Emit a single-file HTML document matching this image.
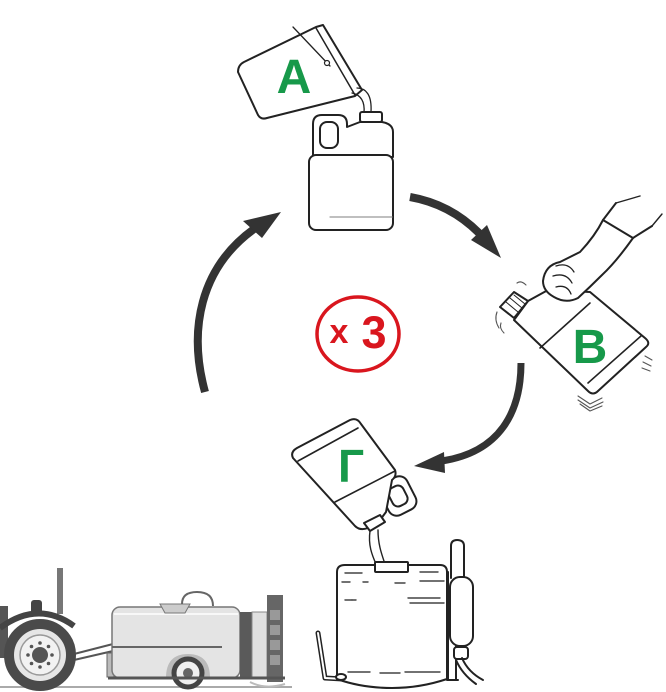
<!DOCTYPE html>
<html><head><meta charset="utf-8"><style>
html,body{margin:0;padding:0;background:#fff;}
svg{display:block;}
text{font-family:"Liberation Sans",sans-serif;font-weight:bold;}
</style></head><body>
<svg width="666" height="692" viewBox="0 0 666 692" xmlns="http://www.w3.org/2000/svg">
<rect width="666" height="692" fill="#fff"/>

<!-- ARROWS -->
<g fill="#333" stroke="none">
  <path d="M205,392 C188,330 200,268 254,229" fill="none" stroke="#333" stroke-width="8" stroke-linecap="butt"/>
  <polygon points="281,212 243,221 262,238"/>
  <path d="M410,197 Q450,204 479,233" fill="none" stroke="#333" stroke-width="8"/>
  <polygon points="501,258 471,240 487,225"/>
  <path d="M521,363 C521,412 500,452 442,461" fill="none" stroke="#333" stroke-width="7"/>
  <polygon points="414,466 444,452 445,473"/>
</g>

<!-- x3 -->
<ellipse cx="358" cy="334" rx="41" ry="37" fill="none" stroke="#d9161e" stroke-width="3.5"/>
<text x="339" y="343" font-size="34" fill="#d9161e" text-anchor="middle">x</text>
<text x="374" y="348" font-size="45" fill="#d9161e" text-anchor="middle">3</text>

<!-- JUG A -->
<g fill="#fff" stroke="#222" stroke-width="2" stroke-linejoin="round" stroke-linecap="round">
  <path d="M238,72 L258,115 Q261,120 267,118 L355,96 L362,90 L323,25 L316,27 L244,62 Q238,65 238,72 Z"/>
  <line x1="316" y1="28" x2="355" y2="95" stroke-width="1.5"/>
  <line x1="293" y1="27" x2="330" y2="66" stroke-width="1.3"/>
  <circle cx="327" cy="63" r="2.5" stroke-width="1.2"/>
  <path d="M357,88 C366,88 372,95 371,112" fill="none" stroke-width="1.3"/>
  <path d="M352,93 C361,95 365,102 364,113" fill="none" stroke-width="1.3"/>
  <path d="M313,157 L313,124 Q313,115 322,115 L338,115 Q347,115 347,124 L347,127 L360,122 L382,122 Q393,124 393,132 L393,157 Z"/>
  <rect x="360" y="112" width="22" height="10" rx="2"/>
  <rect x="320" y="122" width="18" height="26" rx="7"/>
  <rect x="309" y="155" width="84" height="75" rx="7"/>
  <line x1="330" y1="217" x2="392" y2="217" stroke="#999" stroke-width="1.2"/>
</g>
<text x="294" y="93" font-size="48" fill="#17994a" text-anchor="middle">A</text>

<!-- JUG B -->
<g fill="#fff" stroke="#222" stroke-width="2" stroke-linejoin="round" stroke-linecap="round">
  <path d="M528,301 L548,290 L590,292 L645,338 Q651,343 646,347 L598,391 Q593,396 588,391 L514,320 Z"/>
  <line x1="540" y1="348" x2="590" y2="303" stroke-width="1.6"/>
  <line x1="588" y1="383" x2="641" y2="336" stroke-width="1.6"/>
  <polygon points="500,307 514,292 528,301 514,318"/>
  <line x1="506" y1="302" x2="518" y2="312" stroke-width="1"/>
  <line x1="510" y1="298" x2="522" y2="308" stroke-width="1"/>
  <line x1="514" y1="295" x2="525" y2="304" stroke-width="1"/>
  <path d="M543,281 Q545,265 560,262 L580,252 Q595,236 603,220 L633,238 Q616,262 602,275 Q590,287 578,298 Q566,304 554,297 Q543,291 543,281 Z"/>
  <path d="M556,266 Q568,262 574,272" fill="none" stroke-width="1.3"/>
  <path d="M553,276 Q566,272 572,283" fill="none" stroke-width="1.3"/>
  <path d="M556,287 Q567,284 571,294" fill="none" stroke-width="1.3"/>
  <line x1="603" y1="220" x2="616" y2="203"/>
  <line x1="633" y1="238" x2="652" y2="226"/>
  <line x1="616" y1="203" x2="640" y2="196" stroke-width="1.4"/>
  <line x1="652" y1="226" x2="662" y2="214" stroke-width="1.4"/>
  <g stroke="#555" stroke-width="1.1" fill="none">
    <path d="M497,312 Q494,320 499,328"/><path d="M501,323 Q499,328 504,333"/>
    <path d="M517,283 Q521,280 526,285"/>
    <path d="M578,396 L590,404 L602,398"/><path d="M578,400 L590,408 L603,402"/><path d="M580,404 L590,411 L602,406"/>
    <path d="M645,356 L652,360"/><path d="M643,362 L651,366"/><path d="M642,368 L650,371"/>
  </g>
</g>
<text x="590" y="363" font-size="48" fill="#17994a" text-anchor="middle">B</text>

<!-- JUG Г -->
<g fill="#fff" stroke="#222" stroke-width="2" stroke-linejoin="round" stroke-linecap="round">
  <path d="M370,531 C368,545 372,555 376,564" fill="none" stroke-width="1.4"/>
  <path d="M378,530 C378,545 382,555 385,564" fill="none" stroke-width="1.4"/>
  <g transform="rotate(-27 398 496)">
    <rect x="383" y="478" width="30" height="36" rx="9"/>
    <rect x="390" y="486" width="16" height="20" rx="6"/>
  </g>
  <path d="M297,448 L350,420 Q357,417 361,424 L395,470 Q397,476 392,480 L386,512 L380,520 L368,528 Q360,531 355,526 L293,458 Q290,452 297,448 Z"/>
  <polygon points="364,523 380,515 385,522 370,531"/>
  <line x1="298" y1="461" x2="358" y2="428" stroke-width="1.6"/>
  <line x1="335" y1="502" x2="395" y2="471" stroke-width="1.6"/>
</g>
<text x="351" y="482" font-size="46" fill="#17994a" text-anchor="middle">Г</text>

<!-- SPRAYER -->
<g fill="#fff" stroke="#222" stroke-width="2" stroke-linejoin="round" stroke-linecap="round">
  <path d="M318,633 L325,678 L343,679" fill="none" stroke-width="5"/>
  <path d="M318,633 L325,678 L343,679" fill="none" stroke="#fff" stroke-width="2"/>
  <path d="M337,572 Q337,565 345,565 L440,565 Q447,565 447,572 L447,679 Q420,688 392,688 Q362,688 337,679 Z"/>
  <rect x="375" y="562" width="33" height="10" rx="1"/>
  <g stroke="#444" stroke-width="1.4" fill="none">
    <line x1="345" y1="573" x2="362" y2="573"/><line x1="420" y1="572" x2="438" y2="572"/>
    <line x1="342" y1="582" x2="350" y2="582"/><line x1="363" y1="582" x2="368" y2="582"/>
    <line x1="395" y1="583" x2="405" y2="583"/><line x1="420" y1="581" x2="444" y2="581"/>
    <line x1="345" y1="600" x2="352" y2="600"/><line x1="352" y1="600" x2="356" y2="600"/>
    <line x1="408" y1="598" x2="440" y2="598"/><line x1="410" y1="603" x2="444" y2="603"/>
    <line x1="348" y1="672" x2="370" y2="672"/><line x1="380" y1="673" x2="400" y2="673"/><line x1="405" y1="672" x2="440" y2="672"/>
  </g>
  <line x1="448" y1="572" x2="448" y2="680"/>
  <line x1="456" y1="646" x2="456" y2="680"/>
  <line x1="447" y1="680" x2="458" y2="680"/>
  <path d="M451,578 L451,546 Q451,540 457,540 Q464,540 464,546 L464,578" />
  <rect x="450" y="577" width="23" height="69" rx="10"/>
  <rect x="454" y="647" width="14" height="12" rx="3"/>
  <path d="M462,658 Q468,672 483,680" fill="none"/>
  <path d="M456,660 Q462,674 476,684" fill="none"/>
  <ellipse cx="341" cy="677" rx="5" ry="3"/>
</g>

<!-- TRACTOR & TRAILER -->
<g>
  <line x1="0" y1="687" x2="292" y2="687" stroke="#aaa" stroke-width="2"/>
  <rect x="0" y="606" width="8" height="52" fill="#555"/>
  <rect x="57" y="568" width="6" height="46" fill="#777"/>
  <rect x="31" y="600" width="11" height="16" rx="3" fill="#444"/>
  <path d="M0,628 Q38,600 74,626" fill="none" stroke="#444" stroke-width="6"/>
  <line x1="74" y1="654" x2="113" y2="644" stroke="#555" stroke-width="2"/>
  <line x1="74" y1="660" x2="113" y2="651" stroke="#555" stroke-width="2"/>
  <circle cx="40" cy="655" r="31" fill="#e6e6e6" stroke="#4a4a4a" stroke-width="10"/>
  <circle cx="40" cy="655" r="20" fill="#f2f2f2" stroke="#999" stroke-width="1.5"/>
  <circle cx="40" cy="655" r="8" fill="#555"/>
  <g fill="#555">
    <circle cx="52" cy="655" r="1.8"/><circle cx="28" cy="655" r="1.8"/><circle cx="40" cy="643" r="1.8"/><circle cx="40" cy="667" r="1.8"/>
    <circle cx="48.5" cy="646.5" r="1.8"/><circle cx="31.5" cy="663.5" r="1.8"/><circle cx="48.5" cy="663.5" r="1.8"/><circle cx="31.5" cy="646.5" r="1.8"/>
  </g>
  <rect x="107" y="653" width="7" height="24" fill="#bbb" stroke="#666"/>
  <rect x="112" y="607" width="128" height="71" rx="8" fill="#e4e4e4" stroke="#777" stroke-width="1.5"/>
  <line x1="114" y1="614" x2="238" y2="614" stroke="#f8f8f8" stroke-width="2"/>
  <line x1="112" y1="647" x2="222" y2="647" stroke="#666" stroke-width="2"/>
  <path d="M160,604 L190,604 L185,613 L165,613 Z" fill="#ccc" stroke="#777"/>
  <path d="M182,604 Q182,592 197,592 Q213,592 213,606" fill="none" stroke="#666" stroke-width="2"/>
  <path d="M166,678 Q166,654 188,654 Q210,654 210,678 Z" fill="#bbb"/>
  <circle cx="188" cy="673" r="14" fill="#f0f0f0" stroke="#444" stroke-width="5"/>
  <circle cx="188" cy="673" r="5" fill="#666"/>
  <rect x="240" y="612" width="12" height="66" fill="#5a5a5a"/>
  <rect x="252" y="612" width="15" height="66" fill="#e0e0e0" stroke="#888"/>
  <rect x="267" y="595" width="16" height="87" fill="#666"/>
  <g fill="#999"><rect x="270" y="610" width="10" height="10"/><rect x="270" y="625" width="10" height="10"/><rect x="270" y="640" width="10" height="10"/><rect x="270" y="655" width="10" height="10"/></g>
  <line x1="108" y1="678" x2="285" y2="678" stroke="#555" stroke-width="3"/>
  <path d="M250,682 Q265,690 285,684" fill="none" stroke="#bbb" stroke-width="2"/>
</g>
</svg>
</body></html>
